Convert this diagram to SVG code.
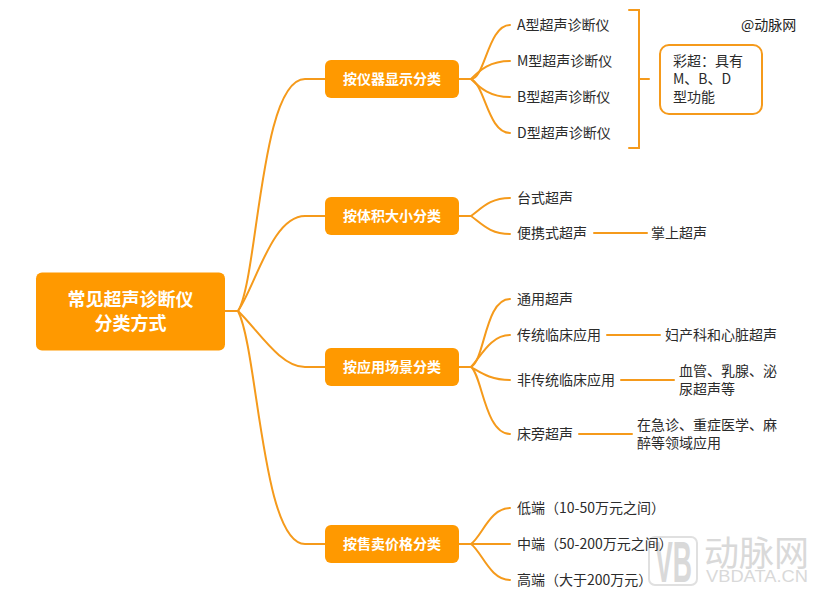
<svg xmlns="http://www.w3.org/2000/svg" width="821" height="596" viewBox="0 0 821 596">
<style>
text{font-family:"Noto Sans CJK SC","Liberation Sans",sans-serif}
.c{fill:none;stroke:#f59a1b;stroke-width:2;stroke-linecap:round}
.b{fill:#ff9900}
.t1{font-size:18px;font-weight:700;fill:#fff;text-anchor:middle}
.t2{font-size:14px;font-weight:700;fill:#fff;text-anchor:middle}
.l{font-size:14px;fill:#2b2b2b}
.w{fill:#d9d9d9}
</style>
<rect width="821" height="596" fill="#fff"/>
<g id="watermark">
<rect x="649" y="537" width="48" height="48" rx="6" fill="none" stroke="#e0e0e0" stroke-width="2"/>
<text x="655" y="582" font-size="58" font-weight="700" class="w" textLength="37" lengthAdjust="spacingAndGlyphs" style="font-family:'Liberation Sans',sans-serif">VB</text>
<text x="704" y="566" font-size="35" class="w">动脉网</text>
<text x="706" y="582" font-size="17" class="w" style="font-family:'Liberation Sans',sans-serif" textLength="102" lengthAdjust="spacingAndGlyphs">VBDATA.CN</text>
</g>
<g id="connectors">
<path class="c" d="M225 311H238"/>
<path class="c" d="M238 311C258 280 260 79 305 79H326"/>
<path class="c" d="M238 311C256 285 272 216 305 216H326"/>
<path class="c" d="M238 311C258 330 280 367 305 367H326"/>
<path class="c" d="M238 311C258 350 262 544 305 544H326"/>
<path class="c" d="M459 79H471C485 79 488 25 510 25"/>
<path class="c" d="M459 79H471C480 70 490 61 510 61"/>
<path class="c" d="M459 79H471C480 88 490 97 510 97"/>
<path class="c" d="M459 79H471C485 85 488 133 510 133"/>
<path class="c" d="M459 216H471C482 208 490 198 510 198"/>
<path class="c" d="M459 216H471C482 224 490 234 510 234"/>
<path class="c" d="M594 233H647"/>
<path class="c" d="M459 367H471C485 360 485 299 510 299"/>
<path class="c" d="M459 367H471C480 358 490 335 510 335"/>
<path class="c" d="M459 367H471C480 372 490 380 510 380"/>
<path class="c" d="M459 367H471C482 375 485 434 510 434"/>
<path class="c" d="M607 335H660"/>
<path class="c" d="M621 380H674"/>
<path class="c" d="M579 434H632"/>
<path class="c" d="M459 544H471C482 536 490 508 510 508"/>
<path class="c" d="M459 544H510"/>
<path class="c" d="M459 544H471C482 552 490 580 510 580"/>
<path class="c" d="M629 10H639V148H629"/>
<path class="c" d="M639 79H649"/>
</g>
<g id="root"><rect class="b" x="36" y="272.500" width="189" height="78" rx="6"/><text class="t1"><tspan x="130.500" y="306">常见超声诊断仪</tspan><tspan x="130.500" y="330">分类方式</tspan></text></g>
<g id="n1"><rect class="b" x="325" y="60" width="134" height="38" rx="6"/><text class="t2" x="392" y="84">按仪器显示分类</text></g>
<g id="n2"><rect class="b" x="325" y="197" width="134" height="38" rx="6"/><text class="t2" x="392" y="221">按体积大小分类</text></g>
<g id="n3"><rect class="b" x="325" y="348" width="134" height="38" rx="6"/><text class="t2" x="392" y="372">按应用场景分类</text></g>
<g id="n4"><rect class="b" x="325" y="525" width="134" height="38" rx="6"/><text class="t2" x="392" y="549">按售卖价格分类</text></g>
<g id="leaves">
<text class="l" x="517" y="30">A型超声诊断仪</text>
<text class="l" x="517" y="66">M型超声诊断仪</text>
<text class="l" x="517" y="102">B型超声诊断仪</text>
<text class="l" x="517" y="138">D型超声诊断仪</text>
<text class="l" x="517" y="203">台式超声</text>
<text class="l" x="517" y="238">便携式超声</text>
<text class="l" x="651" y="238">掌上超声</text>
<text class="l" x="517" y="304">通用超声</text>
<text class="l" x="517" y="340">传统临床应用</text>
<text class="l" x="665" y="340">妇产科和心脏超声</text>
<text class="l" x="517" y="385">非传统临床应用</text>
<text class="l"><tspan x="679" y="376">血管、乳腺、泌</tspan><tspan x="679" y="394">尿超声等</tspan></text>
<text class="l" x="517" y="439">床旁超声</text>
<text class="l"><tspan x="637" y="430">在急诊、重症医学、麻</tspan><tspan x="637" y="448">醉等领域应用</tspan></text>
<text class="l" x="517" y="513">低端（10-50万元之间）</text>
<text class="l" x="517" y="549">中端（50-200万元之间）</text>
<text class="l" x="517" y="585">高端（大于200万元）</text>
</g>
<g id="note"><rect x="660" y="45" width="102" height="69" rx="9" fill="#fff" stroke="#f59a1b" stroke-width="2"/>
<text class="l"><tspan x="673" y="66">彩超：具有</tspan><tspan x="673" y="84">M、B、D</tspan><tspan x="673" y="102">型功能</tspan></text></g>
<text x="741" y="30" font-size="14" fill="#222">@动脉网</text>
</svg>
